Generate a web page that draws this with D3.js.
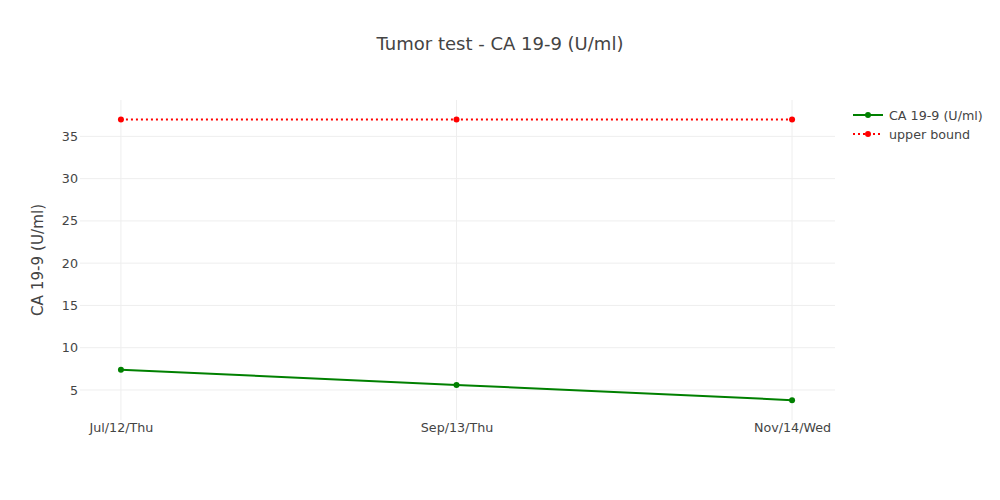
<!DOCTYPE html>
<html>
<head>
<meta charset="utf-8">
<script src="https://cdn.jsdelivr.net/npm/d3@7"></script>
<style>
  body { margin: 0; background: #fff; }
  text { font-family: "DejaVu Sans", verdana, arial, sans-serif; fill: #444; }
</style>
</head>
<body>
<svg id="chart" width="1000" height="500"></svg>
<script>
(function () {
    'use strict';

    // data
    var dates = ['Jul/12/Thu', 'Sep/13/Thu', 'Nov/14/Wed'];
    var caValues = [7.4, 5.6, 3.8];
    var upperBound = [37, 37, 37];
    var yTicks = [5, 10, 15, 20, 25, 30, 35];
    var seriesNames = ['CA 19-9 (U/ml)', 'upper bound'];

    var svg = d3.select('#chart');
    var left = 80, right = 835, top = 100, bottom = 420;

    var x = d3.scaleLinear().domain([-0.122, 2.128]).range([left, right]);
    var y = d3.scaleLinear().domain([1.45, 39.3]).range([bottom, top]);

    // grid
    var grid = svg.append('g');
    grid.selectAll('line.h')
        .data(yTicks)
        .enter().append('line')
        .attr('x1', left).attr('x2', right)
        .attr('y1', d => y(d)).attr('y2', d => y(d))
        .style('stroke', '#eee').style('stroke-width', 1);
    grid.selectAll('line.v')
        .data(dates)
        .enter().append('line')
        .attr('x1', (d, i) => x(i)).attr('x2', (d, i) => x(i))
        .attr('y1', top).attr('y2', bottom)
        .style('stroke', '#eee').style('stroke-width', 1);

    // axes labels
    var yAxis = d3.axisLeft(y).tickValues(yTicks).tickSize(0).tickPadding(2);
    var gy = svg.append('g').attr('transform', 'translate(' + left + ',0)').call(yAxis);
    gy.select('.domain').remove();
    gy.selectAll('text').style('font-size', '12.7px').attr('fill', null);
    gy.attr('font-family', null);

    var xAxis = d3.axisBottom(x).tickValues([0, 1, 2]).tickFormat((d) => dates[d]).tickSize(0).tickPadding(3);
    var gx = svg.append('g').attr('transform', 'translate(0,' + bottom + ')').call(xAxis);
    gx.select('.domain').remove();
    gx.selectAll('text').style('font-size', '12.7px').attr('fill', null);
    gx.attr('font-family', null);

    // title
    svg.append('text')
        .attr('x', 500).attr('y', 50)
        .attr('text-anchor', 'middle')
        .style('font-size', '18px')
        .text('Tumor test - CA 19-9 (U/ml)');

    svg.append('text')
        .attr('transform', 'translate(43,' + ((top + bottom) / 2) + ') rotate(-90)')
        .attr('text-anchor', 'middle')
        .style('font-size', '15.2px')
        .text('CA 19-9 (U/ml)');

    var line = d3.line().x((d, i) => x(i)).y(d => y(d));

    var series = [
        { values: caValues, color: 'green', dash: null },
        { values: upperBound, color: 'red', dash: '2,3' }
    ];

    series.forEach(function (s) {
        svg.append('path')
            .datum(s.values)
            .attr('d', line)
            .style('fill', 'none')
            .style('stroke', s.color)
            .style('stroke-width', 2)
            .style('stroke-dasharray', s.dash);
        svg.selectAll(null)
            .data(s.values)
            .enter().append('circle')
            .attr('cx', (d, i) => x(i))
            .attr('cy', d => y(d))
            .attr('r', 3)
            .style('fill', s.color);
    });

    // legend
    var legend = svg.append('g').attr('transform', 'translate(853,115)');
    series.forEach(function (s, i) {
        var g = legend.append('g').attr('transform', 'translate(0,' + (i * 19) + ')');
        g.append('line')
            .attr('x1', 0).attr('x2', 30).attr('y1', 0).attr('y2', 0)
            .style('stroke', s.color).style('stroke-width', 2)
            .style('stroke-dasharray', s.dash);
        g.append('circle').attr('cx', 15).attr('cy', 0).attr('r', 3).style('fill', s.color);
        g.append('text')
            .attr('x', 36).attr('y', 4.5)
            .style('font-size', '12.7px')
            .text(seriesNames[i]);
    });
}());
</script>
</body>
</html>
